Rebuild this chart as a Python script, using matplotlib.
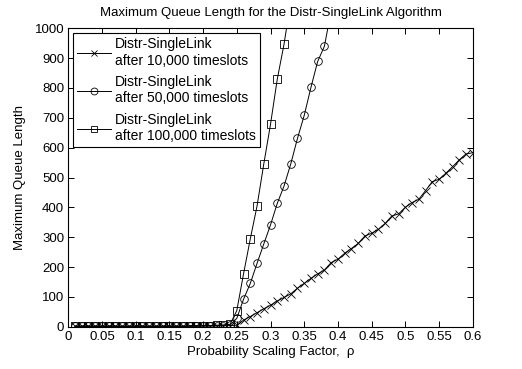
import numpy as np
import matplotlib
matplotlib.use("Agg")
import matplotlib.pyplot as plt

plt.rcParams['font.family'] = ['Liberation Sans', 'DejaVu Sans']

# scaling factor (0.01 .. 0.60)
rho_10k = [round(0.01 * k, 2) for k in range(1, 61)]
q_10k = [1, 1, 1, 1, 1, 1, 1, 1, 1, 1,
         1, 1, 1, 1, 1, 1, 1, 2, 2, 2,
         2, 3, 3, 4, 5, 22, 34, 47, 60, 72,
         86, 98, 110, 129, 145, 162, 177, 190, 215, 226,
         246, 262, 279, 304, 313, 326, 346, 371, 378, 400,
         416, 427, 456, 486, 494, 514, 536, 559, 579, 583]

rho_50k = [round(0.01 * k, 2) for k in range(1, 40)]
q_50k = [2, 2, 2, 2, 2, 2, 2, 2, 2, 2,
         2, 2, 2, 2, 2, 2, 2, 2, 2, 3,
         3, 3, 4, 5, 28, 92, 145, 212, 277, 341,
         413, 471, 545, 631, 708, 802, 889, 940, 1060]

rho_100k = [round(0.01 * k, 2) for k in range(1, 34)]
q_100k = [2, 2, 2, 2, 2, 2, 2, 2, 2, 2,
          2, 2, 2, 2, 2, 2, 2, 3, 3, 4,
          4, 5, 6, 8, 54, 177, 294, 404, 545, 678,
          829, 946, 1090]

labels = ["Distr-SingleLink\nafter 10,000 timeslots",
          "Distr-SingleLink\nafter 50,000 timeslots",
          "Distr-SingleLink\nafter 100,000 timeslots"]

xticks = np.arange(0, 0.601, 0.05)
xticklabels = ["0", "0.05", "0.1", "0.15", "0.2", "0.25", "0.3",
               "0.35", "0.4", "0.45", "0.5", "0.55", "0.6"]
yticks = np.arange(0, 1001, 100)

fig = plt.figure(figsize=(5.22, 3.69), dpi=100)
ax = fig.add_axes([0.1308, 0.1146, 0.7748, 0.8087])

ax.plot(rho_10k, q_10k, 'k-x', lw=0.7, ms=5.5, mew=0.6, label=labels[0])
ax.plot(rho_50k, q_50k, 'k-o', lw=0.7, ms=5.5, mew=0.6, mfc='none', label=labels[1])
ax.plot(rho_100k, q_100k, 'k-s', lw=0.7, ms=5.5, mew=0.6, mfc='none', label=labels[2])

ax.set_xlim(0, 0.6)
ax.set_ylim(0, 1000)
ax.set_xticks(xticks)
ax.set_xticklabels(xticklabels)
ax.set_yticks(yticks)
ax.tick_params(direction='in', top=True, right=True, length=4, width=0.7,
               labelsize=9.5, pad=3)
for s in ax.spines.values():
    s.set_linewidth(0.8)

ax.set_title("Maximum Queue Length for the Distr-SingleLink Algorithm", fontsize=9.5, pad=9)
ax.set_xlabel("Probability Scaling Factor,  ρ", fontsize=9.5, labelpad=2)
ax.set_ylabel("Maximum Queue Length", fontsize=9.5, labelpad=6)

leg = ax.legend(loc='upper left', fontsize=10, frameon=True, fancybox=False,
                edgecolor='black', framealpha=1, handlelength=2.4,
                borderaxespad=0.35, labelspacing=0.55, handletextpad=0.3,
                borderpad=0.3, markerscale=0.9)
leg.get_frame().set_linewidth(0.8)

fig.savefig("out.png", dpi=100)
